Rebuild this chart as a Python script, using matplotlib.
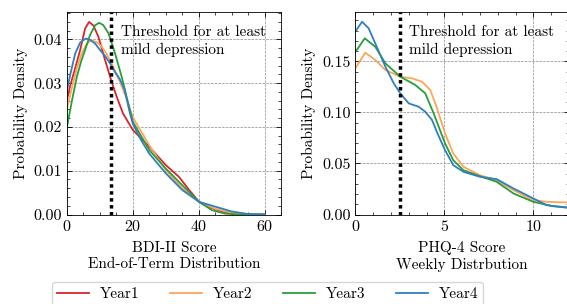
import matplotlib
matplotlib.use("Agg")
import matplotlib.pyplot as plt
from matplotlib.ticker import MultipleLocator, FormatStrFormatter

plt.rcParams['font.family'] = ['cmr10', 'DejaVu Serif']
plt.rcParams['mathtext.fontset'] = 'cm'
plt.rcParams['axes.formatter.use_mathtext'] = True
plt.rcParams['axes.unicode_minus'] = False
plt.rcParams['font.size'] = 11

years = ["Year1", "Year2", "Year3", "Year4"]
colors = ["#d7262b", "#fda55a", "#2a9d3a", "#2f7fc1"]

# BDI-II end-of-term densities
bdi_x = {
    "Year1": [0, 1, 2.5, 4, 5.5, 6.7, 8, 9.55, 11.56, 13.57, 15.1, 17, 20, 25, 30, 34, 37.1, 40.1, 43.1, 47, 51, 55, 60],
    "Year2": [0, 1.5, 3, 4.5, 6, 7.3, 9, 10.6, 12, 13.6, 16.1, 18.1, 20, 25, 30, 35.1, 40.1, 45, 50, 55, 60],
    "Year3": [0, 1.5, 3, 4.3, 5.5, 7, 8.5, 9.75, 11, 12.6, 14.6, 16.6, 18.1, 20, 25, 30, 35, 40.1, 44, 48, 52, 60],
    "Year4": [0, 1, 2.5, 4, 5.7, 7, 8.5, 10, 11.6, 13.1, 14.6, 16, 17.5, 19, 20, 22.5, 25, 30, 35, 40.1, 45, 50, 55, 60],
}
bdi_y = {
    "Year1": [0.0262, 0.0295, 0.0335, 0.0376, 0.0425, 0.0440, 0.0432, 0.0406, 0.0353, 0.0303, 0.0269, 0.0231, 0.0193, 0.01545, 0.0113, 0.0086, 0.0056, 0.0029, 0.0017, 0.0007, 0.0002, 0.0, 0.0],
    "Year2": [0.0242, 0.0290, 0.0335, 0.0368, 0.0390, 0.0398, 0.0394, 0.0383, 0.0367, 0.0345, 0.0303, 0.0265, 0.0222, 0.0158, 0.0101, 0.0059, 0.0029, 0.0013, 0.0004, 0.0001, 0.0],
    "Year3": [0.0200, 0.0260, 0.0315, 0.0350, 0.0376, 0.0410, 0.0432, 0.0438, 0.0433, 0.0414, 0.0368, 0.0315, 0.0269, 0.0212, 0.0147, 0.0105, 0.0067, 0.0029, 0.0010, 0.0002, 0.0, 0.0],
    "Year4": [0.0284, 0.0320, 0.0368, 0.0393, 0.0402, 0.0399, 0.0391, 0.0376, 0.0362, 0.0345, 0.0325, 0.0310, 0.0285, 0.0235, 0.0207, 0.0170, 0.0139, 0.0094, 0.0056, 0.0029, 0.0018, 0.0007, 0.0001, 0.0],
}

# PHQ-4 weekly densities (Year1 not shown)
phq_x = {
    "Year2": [0, 0.56, 1.12, 1.69, 2.53, 3.19, 3.75, 4.21, 4.59, 5.04, 5.5, 6.07, 7.0, 7.94, 8.88, 10, 10.75, 11.9, 12],
    "Year3": [0, 0.53, 1.12, 1.69, 2.53, 3.37, 3.93, 4.4, 5.04, 5.5, 6.07, 7.0, 7.94, 8.88, 10, 11.1, 12],
    "Year4": [0, 0.38, 0.75, 1.12, 1.69, 2.16, 2.53, 3.0, 3.56, 3.93, 4.31, 4.6, 5.04, 5.5, 6.07, 7.0, 7.94, 8.88, 10, 10.75, 11.9, 12],
}
phq_y = {
    "Year2": [0.1431, 0.1585, 0.1513, 0.1415, 0.1349, 0.1333, 0.1300, 0.1219, 0.1040, 0.0794, 0.0598, 0.0467, 0.0385, 0.0336, 0.0238, 0.0140, 0.0124, 0.0118, 0.0118],
    "Year3": [0.1590, 0.1725, 0.1643, 0.1480, 0.1349, 0.1268, 0.1186, 0.0990, 0.0696, 0.0532, 0.0434, 0.0375, 0.0320, 0.0206, 0.0124, 0.0081, 0.0066],
    "Year4": [0.1790, 0.1888, 0.1823, 0.1676, 0.1447, 0.1284, 0.1186, 0.1088, 0.1055, 0.1006, 0.0925, 0.0800, 0.0630, 0.0483, 0.0418, 0.0369, 0.0346, 0.0255, 0.0157, 0.0091, 0.0068, 0.0066],
}

bdi_threshold = 13.5
phq_threshold = 2.5

fig = plt.figure(figsize=(5.67, 3.04), dpi=100)
W, H = 567, 304
ax1 = fig.add_axes([67 / W, 1 - 214.5 / H, (281 - 67) / W, (214.5 - 12.3) / H])
ax2 = fig.add_axes([355.3 / W, 1 - 214.5 / H, (569 - 355.3) / W, (214.5 - 12.3) / H])

lines = []
for yr, c in zip(years, colors):
    l, = ax1.plot(bdi_x[yr], bdi_y[yr], color=c, lw=1.3, label=yr)
    lines.append(l)
    if yr in phq_y:
        ax2.plot(phq_x[yr], phq_y[yr], color=c, lw=1.3)

for ax, thr, xlim, ylim, xmaj, xmin, ymaj, ymin, tx, xl in [
    (ax1, bdi_threshold, (0, 65), (0, 0.0462), 20, 5, 0.01, 0.002, 16.3, "BDI-II Score\nEnd-of-Term Distribution"),
    (ax2, phq_threshold, (0, 12), (0, 0.198), 5, 1, 0.05, 0.01, 3.0, "PHQ-4 Score\nWeekly Distrbution"),
]:
    ax.axvline(thr, color='black', ls=(0, (1, 1)), lw=2.5)
    ax.set_xlim(*xlim)
    ax.set_ylim(*ylim)
    ax.xaxis.set_major_locator(MultipleLocator(xmaj))
    ax.xaxis.set_minor_locator(MultipleLocator(xmin))
    ax.yaxis.set_major_locator(MultipleLocator(ymaj))
    ax.yaxis.set_minor_locator(MultipleLocator(ymin))
    ax.yaxis.set_major_formatter(FormatStrFormatter('%.2f'))
    ax.tick_params(which='both', direction='in', top=True, right=True, labelsize=11.5)
    ax.tick_params(which='major', length=3.5, width=0.6)
    ax.tick_params(which='minor', length=2, width=0.5)
    ax.grid(True, which='major', ls='--', lw=0.5, color='#888888')
    for s in ax.spines.values():
        s.set_linewidth(0.6)
    ax.text(tx, 0.935, "Threshold for at least\nmild depression", ha='left', va='top',
            transform=ax.get_xaxis_transform(), fontsize=11, linespacing=1.3)
    ax.set_xlabel(xl, linespacing=1.25, labelpad=5)
    ax.set_ylabel("Probability Density", labelpad=4)

fig.legend(handles=lines, loc='upper center', bbox_to_anchor=(0.472, 0.072), ncol=4,
           frameon=True, fancybox=True, edgecolor='#cccccc', handlelength=2.1,
           handletextpad=0.7, columnspacing=2.0, fontsize=11, borderpad=0.35,
           borderaxespad=0)

fig.savefig("out.png", dpi=100)
